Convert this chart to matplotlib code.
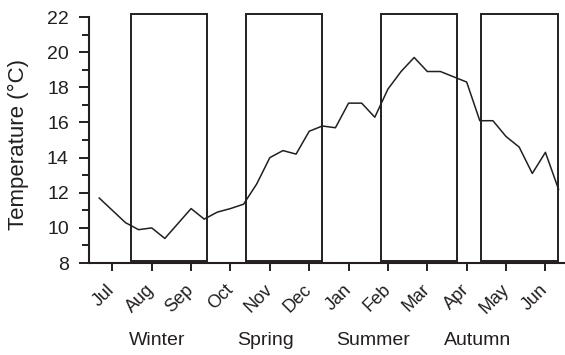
import numpy as np
import matplotlib.pyplot as plt
from matplotlib.patches import Rectangle
from matplotlib.ticker import MultipleLocator

plt.rcParams['font.family'] = ['Liberation Sans', 'DejaVu Sans']

ink = '#231f20'

# ten-day (dekad) mean temperatures, Jul..Jun
temp = [11.7, 11.0, 10.3, 9.9, 10.0, 9.4, 10.25, 11.1, 10.5, 10.9, 11.1, 11.35,
        12.5, 14.0, 14.4, 14.2, 15.5, 15.8, 15.7, 17.1, 17.1, 16.3, 17.9, 18.9,
        19.7, 18.9, 18.9, 18.6, 18.3, 16.1, 16.1, 15.2, 14.6, 13.1, 14.3, 12.2]
months = ['Jul', 'Aug', 'Sep', 'Oct', 'Nov', 'Dec',
          'Jan', 'Feb', 'Mar', 'Apr', 'May', 'Jun']
month_pos = [1 + 3 * i for i in range(12)]

seasons = ['Winter', 'Spring', 'Summer', 'Autumn']
season_start = [2.4, 11.2, 21.45, 29.1]
season_end = [8.2, 16.95, 27.25, 34.95]
season_label_x = [4.4, 12.65, 20.9, 28.8]

fig = plt.figure(figsize=(5.65, 3.55), dpi=100)
ax = fig.add_axes([0.1575, 0.259, 0.845, 0.693])

x = np.arange(len(temp))
ax.plot(x, temp, color=ink, lw=1.1, zorder=3)

for s, e in zip(season_start, season_end):
    ax.add_patch(Rectangle((s, 8.12), e - s, 22.15 - 8.12, fill=False,
                           edgecolor=ink, lw=1.4, clip_on=False, zorder=2))

for name, sx in zip(seasons, season_label_x):
    ax.text(sx, -0.313, name, transform=ax.get_xaxis_transform(),
            ha='center', va='center', fontsize=14, color=ink)

ax.set_xlim(-0.78, 35.6)
ax.set_ylim(8, 22)
ax.yaxis.set_major_locator(MultipleLocator(2))
ax.yaxis.set_minor_locator(MultipleLocator(1))
ax.set_xticks(month_pos)
ax.set_xticklabels(months, rotation=45, ha='right', va='center',
                   rotation_mode='anchor')

ax.spines['top'].set_visible(False)
ax.spines['right'].set_visible(False)
for sp in ('left', 'bottom'):
    ax.spines[sp].set_linewidth(1.5)
    ax.spines[sp].set_color(ink)

ax.tick_params(axis='y', which='major', length=7.5, width=1.4, pad=7,
               labelsize=14, colors=ink)
ax.tick_params(axis='y', which='minor', length=5, width=1.4, colors=ink)
ax.tick_params(axis='x', which='major', length=5.5, width=1.4, pad=12,
               labelsize=13, colors=ink)

ax.set_ylabel('Temperature (°C)', fontsize=16, color=ink)
ax.yaxis.set_label_coords(-0.126, 0.48)

fig.savefig('out.png', dpi=100)
